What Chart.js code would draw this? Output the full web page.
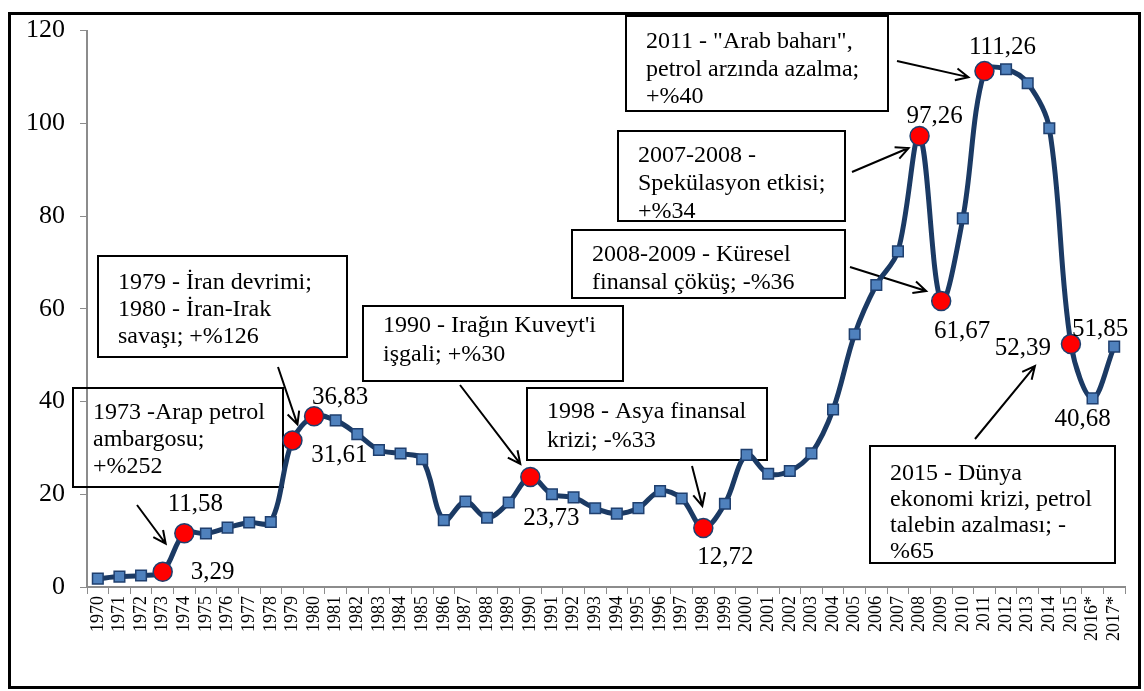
<!DOCTYPE html>
<html>
<head>
<meta charset="utf-8">
<script src="https://cdn.jsdelivr.net/npm/chart.js@4.4.0/dist/chart.umd.min.js"></script>
<style>
    html, body { margin: 0; padding: 0; background: #fff; }
    #wrap { position: relative; width: 1144px; height: 691px; overflow: hidden; }
    canvas { position: absolute; left: 0; top: 0; }
</style>
</head>
<body>
<div id="wrap"><canvas id="oilChart" width="1144" height="691"></canvas></div>
<script>
const years = ['1970', '1971', '1972', '1973', '1974', '1975', '1976', '1977', '1978', '1979',
    '1980', '1981', '1982', '1983', '1984', '1985', '1986', '1987', '1988', '1989',
    '1990', '1991', '1992', '1993', '1994', '1995', '1996', '1997', '1998', '1999',
    '2000', '2001', '2002', '2003', '2004', '2005', '2006', '2007', '2008', '2009',
    '2010', '2011', '2012', '2013', '2014', '2015', '2016*', '2017*'];

// dolar / varil
const prices = [1.80, 2.24, 2.48, 3.29, 11.58, 11.53, 12.80, 13.92, 14.02, 31.61,
    36.83, 35.93, 32.97, 29.55, 28.78, 27.56, 14.43, 18.44, 14.92, 18.23,
    23.73, 20.00, 19.32, 16.97, 15.82, 17.02, 20.67, 19.09, 12.72, 17.97,
    28.50, 24.44, 25.02, 28.83, 38.27, 54.52, 65.14, 72.39, 97.26, 61.67,
    79.50, 111.26, 111.67, 108.66, 98.95, 52.39, 40.68, 51.85];

// years marked with a red dot
const crisisYears = ['1973', '1974', '1979', '1980', '1990', '1998', '2008', '2009', '2011', '2015'];
const labelledYears = ['1973', '1974', '1979', '1980', '1990', '1998', '2008', '2009', '2011', '2015', '2016*', '2017*'];

const yTicks = [0, 20, 40, 60, 80, 100, 120];

// where each value label sits relative to its point (px)
const labelOffset = {
    '1973': [50, 1], '1974': [11, -29], '1979': [47, 15], '1980': [26, -19],
    '1990': [21, 41], '1998': [22, 29], '2008': [15, -20], '2009': [21, 30],
    '2011': [18, -24], '2015': [-48, 4], '2016*': [-10, 21], '2017*': [-14, -17]
};

// annotation boxes: box = [x, y, w, h], arrow tail in px, head relative to the point
const notes = [
    { year: '1973', box: [73, 388, 210, 99], first: 413, gap: 27, lines: ['1973 -Arap petrol', 'ambargosu;', '+%252'], tail: [137, 505], head: [3, -28] },
    { year: '1979', box: [98, 256, 249, 101], first: 283, gap: 27, lines: ['1979 - İran devrimi;', '1980 - İran-Irak', 'savaşı; +%126'], tail: [278, 367], head: [5, -16] },
    { year: '1990', box: [363, 306, 260, 75], first: 326, gap: 29, lines: ["1990 - Irağın Kuveyt'i", 'işgali; +%30'], tail: [460, 385], head: [-10, -13] },
    { year: '1998', box: [527, 388, 240, 72], first: 412, gap: 29, lines: ['1998 - Asya finansal', 'krizi; -%33'], tail: [692, 466], head: [-1, -22] },
    { year: '2011', box: [626, 16, 262, 95], first: 42, gap: 27.5, lines: ['2011 - "Arab baharı",', 'petrol arzında azalma;', '+%40'], tail: [897, 61], head: [-16, 6] },
    { year: '2008', box: [618, 131, 227, 90], first: 156, gap: 28, lines: ['2007-2008 -', 'Spekülasyon etkisi;', '+%34'], tail: [852, 172], head: [-11, 12] },
    { year: '2009', box: [572, 230, 273, 68], first: 255, gap: 28, lines: ['2008-2009 - Küresel', 'finansal çöküş; -%36'], tail: [850, 267], head: [-15, -10] },
    { year: '2015', box: [870, 446, 245, 117], first: 474, gap: 26, lines: ['2015 - Dünya', 'ekonomi krizi, petrol', 'talebin azalması; -', '%65'], tail: [975, 439], head: [-36, 22] }
];

const SERIF = '"Liberation Serif", "Times New Roman", serif';
const isCrisis = years.map(y => crisisYears.includes(y));

const fmt = v => v.toFixed(2).replace('.', ',');

function arrow(ctx, x1, y1, x2, y2) {
    const a = Math.atan2(y2 - y1, x2 - x1);
    const len = 14, spread = 0.45;
    ctx.beginPath();
    ctx.moveTo(x1, y1);
    ctx.lineTo(x2, y2);
    ctx.moveTo(x2 - len * Math.cos(a - spread), y2 - len * Math.sin(a - spread));
    ctx.lineTo(x2, y2);
    ctx.lineTo(x2 - len * Math.cos(a + spread), y2 - len * Math.sin(a + spread));
    ctx.stroke();
}

const notesPlugin = {
    id: 'notes',
    beforeDatasetsDraw(chart) {
        const ctx = chart.ctx;
        const pts = chart.getDatasetMeta(0).data;
        ctx.save();
        ctx.strokeStyle = '#000';
        ctx.fillStyle = '#000';
        ctx.font = '24px ' + SERIF;
        ctx.textBaseline = 'middle';
        ctx.textAlign = 'left';
        notes.forEach(n => {
            const [bx, by, bw, bh] = n.box;
            ctx.lineWidth = 2;
            ctx.strokeRect(bx, by, bw, bh);
            n.lines.forEach((t, i) => ctx.fillText(t, bx + 20, n.first + i * n.gap));
            const p = pts[years.indexOf(n.year)];
            ctx.lineWidth = 2;
            arrow(ctx, n.tail[0], n.tail[1], p.x + n.head[0], p.y + n.head[1]);
        });
        ctx.restore();
    },
    afterDatasetsDraw(chart) {
        const ctx = chart.ctx;
        const pts = chart.getDatasetMeta(0).data;
        ctx.save();
        ctx.fillStyle = '#000';
        ctx.font = '25px ' + SERIF;
        ctx.textAlign = 'center';
        ctx.textBaseline = 'middle';
        labelledYears.forEach(y => {
            const i = years.indexOf(y);
            const off = labelOffset[y];
            ctx.fillText(fmt(prices[i]), pts[i].x + off[0], pts[i].y + off[1]);
        });
        ctx.restore();
    },
    afterDraw(chart) {
        const ctx = chart.ctx;
        ctx.save();
        ctx.strokeStyle = '#000';
        ctx.lineWidth = 3;
        ctx.strokeRect(9.5, 13.5, 1130, 674);
        ctx.restore();
    }
};

new Chart(document.getElementById('oilChart'), {
    type: 'line',
    data: {
        labels: years,
        datasets: [{
            data: prices,
            borderColor: '#1B3A64',
            borderWidth: 5,
            tension: 0.35,
            fill: false,
            pointStyle: isCrisis.map(c => c ? 'circle' : 'rect'),
            pointRadius: isCrisis.map(c => c ? 9.5 : 7.5),
            pointBackgroundColor: isCrisis.map(c => c ? '#FF0000' : '#4F81BD'),
            pointBorderColor: '#1F3F6E',
            pointBorderWidth: 1.5
        }]
    },
    options: {
        responsive: false,
        animation: false,
        layout: { padding: { top: 21, right: 19, bottom: 0, left: 0 } },
        plugins: { legend: { display: false }, tooltip: { enabled: false } },
        scales: {
            x: {
                offset: true,
                grid: { offset: true, drawOnChartArea: false, tickLength: 7, color: '#8C8C8C' },
                border: { color: '#8C8C8C', width: 2 },
                ticks: {
                    autoSkip: false, maxRotation: 90, minRotation: 90, padding: 2,
                    color: '#000', font: { family: SERIF, size: 18 }
                },
                afterFit(s) { s.height = 104; }
            },
            y: {
                min: 0, max: 120,
                afterBuildTicks(s) { s.ticks = yTicks.map(v => ({ value: v })); },
                grid: { drawOnChartArea: false, tickLength: 7, color: '#8C8C8C' },
                border: { color: '#8C8C8C', width: 2 },
                ticks: { padding: 15, color: '#000', font: { family: SERIF, size: 26 } },
                afterFit(s) { s.width = 87; }
            }
        }
    },
    plugins: [notesPlugin]
});
</script>
</body>
</html>
